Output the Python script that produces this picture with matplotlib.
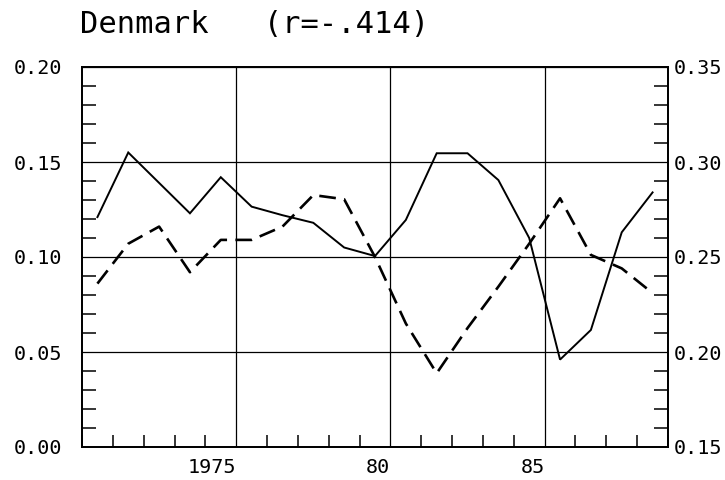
import numpy as np
import matplotlib
matplotlib.use("Agg")
import matplotlib.pyplot as plt
from matplotlib.ticker import MultipleLocator, FixedLocator

# annual values, plotted at mid-year
years = np.arange(1970, 1989)
solid_vals = [0.121, 0.155, 0.139, 0.123, 0.142, 0.1265, 0.122, 0.118, 0.105, 0.1005,
              0.1195, 0.1546, 0.1546, 0.1405, 0.110, 0.046, 0.0616, 0.113, 0.134]
dashed_vals = [0.236, 0.257, 0.266, 0.242, 0.259, 0.259, 0.266, 0.2826, 0.2804, 0.250,
               0.215, 0.1888, 0.2126, 0.2344, 0.257, 0.2809, 0.2511, 0.244, 0.231]

x_major = [1975, 1980, 1985]
x_labels = ["1975", "80", "85"]
left_ticks = [0.00, 0.05, 0.10, 0.15, 0.20]
right_ticks = [0.15, 0.20, 0.25, 0.30, 0.35]

plt.rcParams['font.family'] = ['DejaVu Sans Mono', 'DejaVu Sans']
plt.rcParams['lines.scale_dashes'] = False

fig = plt.figure(figsize=(7.25, 4.8), dpi=100)
ax = fig.add_axes([82 / 725, 33 / 480, 586 / 725, 380 / 480])
ax2 = ax.twinx()

xs = years + 0.5
ax.plot(xs, solid_vals, color='black', lw=1.4, solid_joinstyle='miter')
ax2.plot(xs, dashed_vals, color='black', lw=1.9, dashes=(12, 6))

ax.set_xlim(1970, 1989)
ax.set_ylim(0, 0.20)
ax2.set_ylim(0.15, 0.35)

ax.xaxis.set_major_locator(FixedLocator(x_major))
ax.set_xticklabels(x_labels, ha='right')
ax.xaxis.set_minor_locator(MultipleLocator(1))
ax.yaxis.set_major_locator(FixedLocator(left_ticks))
ax.set_yticklabels([f"{v:.2f}" for v in left_ticks])
ax.yaxis.set_minor_locator(MultipleLocator(0.01))
ax2.yaxis.set_major_locator(FixedLocator(right_ticks))
ax2.set_yticklabels([f"{v:.2f}" for v in right_ticks])
ax2.yaxis.set_minor_locator(MultipleLocator(0.01))

ax.grid(True, which='major', color='black', lw=0.9)

ax.tick_params(axis='x', which='major', length=0, pad=8, labelsize=14.5)
ax.tick_params(axis='x', which='minor', direction='in', length=9, width=1.1, top=False)
ax.tick_params(axis='y', which='major', length=0, pad=14, labelsize=14.5)
ax.tick_params(axis='y', which='minor', direction='in', length=10, width=1.1, right=False)
ax2.tick_params(axis='y', which='major', length=0, pad=4, labelsize=14.5)
ax2.tick_params(axis='y', which='minor', direction='in', length=10, width=1.1)

for a in (ax, ax2):
    for s in a.spines.values():
        s.set_linewidth(1.3)

fig.text(80 / 725, 1 - 33 / 480, "Denmark   (r=-.414)", fontsize=22, ha='left', va='baseline')

fig.savefig("out.png", dpi=100)
